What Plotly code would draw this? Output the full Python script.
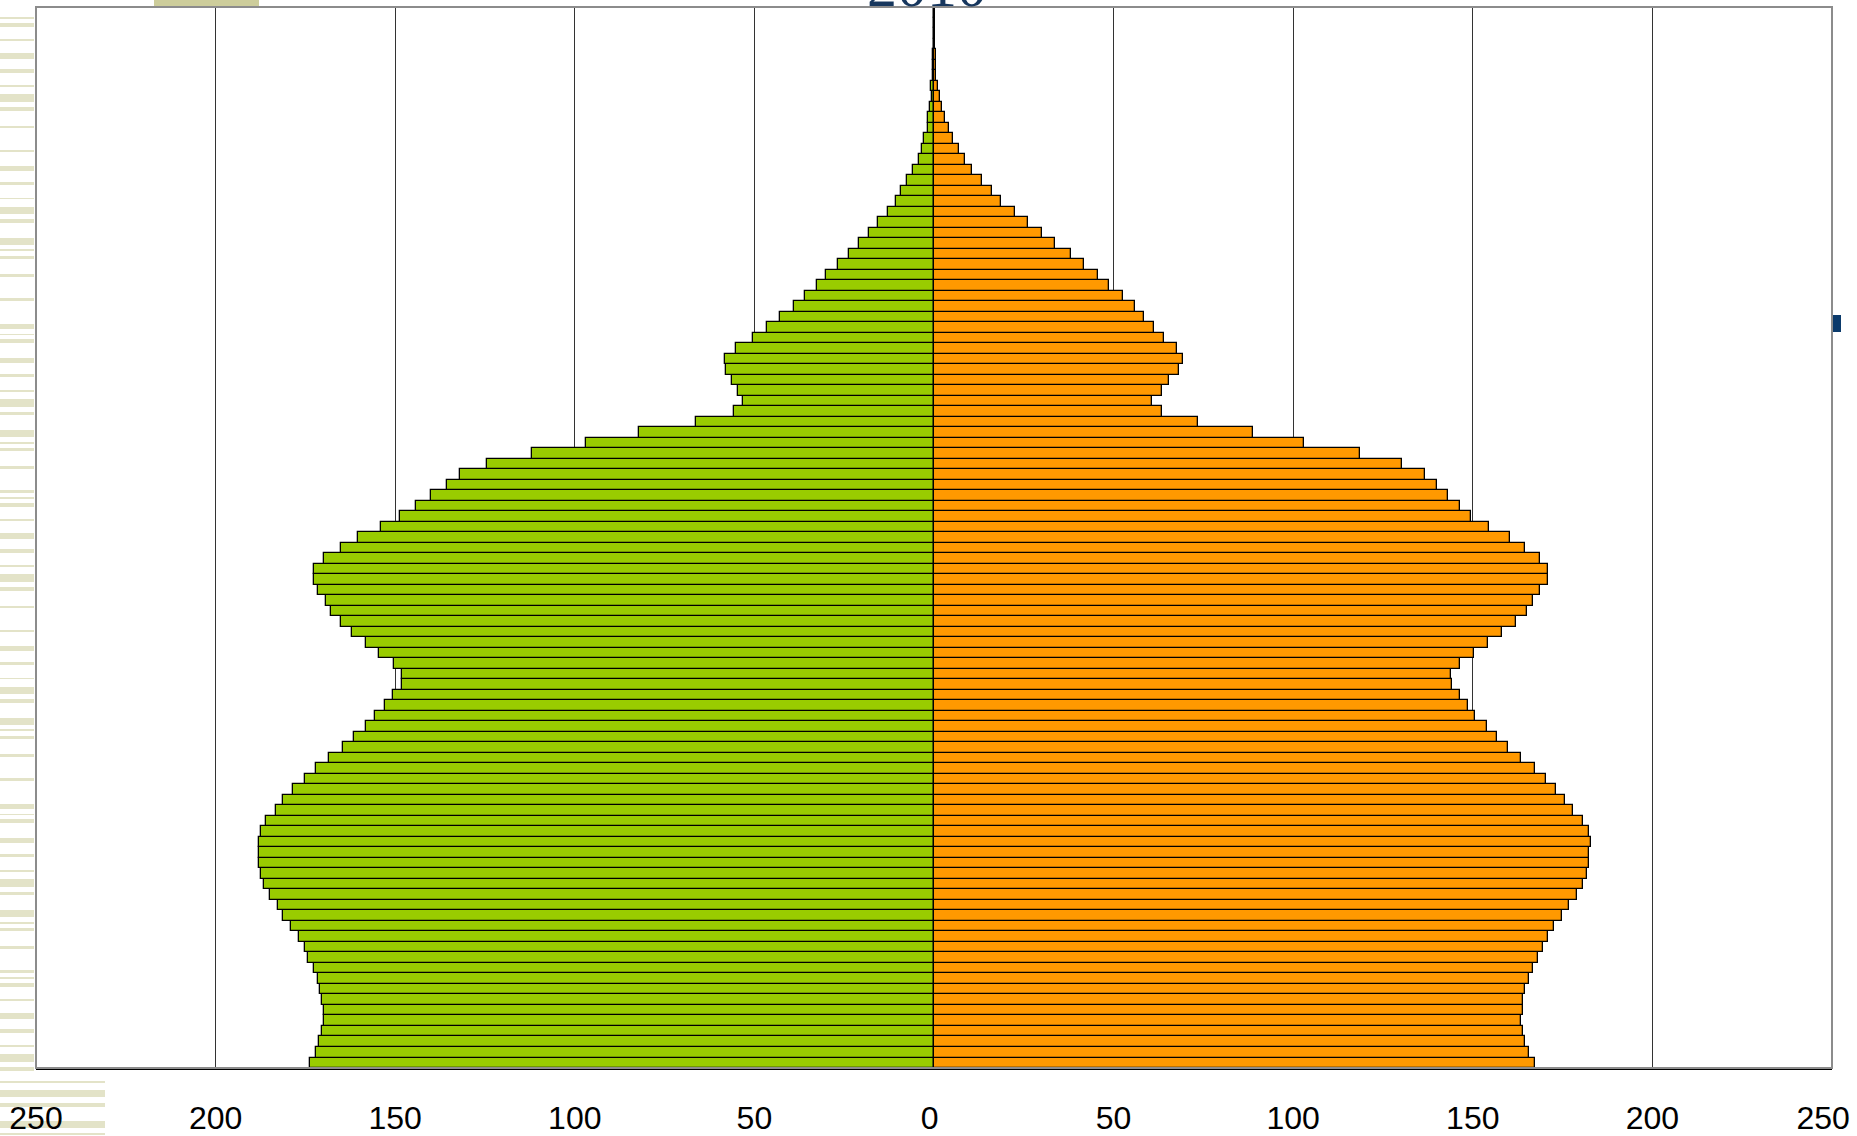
import plotly.graph_objects as go

# ---------------- data ----------------
ages = list(range(0, 101))

# left side (green) values, age 0 .. 100
left_values = [
    173.6, 172.0, 171.2, 170.4, 169.9, 169.9, 170.4, 171.0, 171.5, 172.6,
    174.2, 175.2, 176.8, 179.0, 181.1, 182.7, 184.8, 186.4, 187.5, 188.0,
    188.0, 188.0, 187.5, 185.9, 183.2, 181.1, 178.4, 175.2, 172.0, 168.3,
    164.6, 161.4, 158.2, 155.5, 152.9, 150.7, 148.1, 148.1, 150.2, 154.5,
    158.2, 161.9, 165.1, 167.8, 169.4, 171.5, 172.6, 172.6, 169.9, 165.1,
    160.4, 154.0, 148.6, 144.3, 140.0, 135.7, 132.0, 124.4, 112.0, 97.0,
    82.0, 66.3, 55.6, 53.1, 54.5, 56.2, 57.8, 58.3, 55.1, 50.3,
    46.5, 42.8, 39.0, 35.8, 32.6, 30.0, 26.8, 23.6, 20.9, 18.2,
    15.5, 12.8, 10.7, 9.1, 7.5, 5.9, 4.3, 3.3, 2.7, 1.7,
    1.7, 1.2, 0.6, 0.7, 0.3, 0.3, 0.3, 0.1, 0.1, 0.1,
    0.1,
]

# right side (orange) values, age 0 .. 100
right_values = [
    167.3, 165.7, 164.6, 164.1, 163.5, 164.1, 164.1, 164.6, 165.7, 166.7,
    168.1, 169.6, 171.0, 172.6, 174.7, 176.8, 179.0, 180.8, 181.9, 182.4,
    182.4, 183.0, 182.3, 180.7, 177.9, 175.8, 173.1, 170.4, 167.3, 163.5,
    159.8, 156.6, 153.9, 150.7, 148.6, 146.5, 144.3, 143.8, 146.5, 150.2,
    154.2, 158.2, 161.9, 165.1, 166.7, 168.8, 171.0, 171.0, 168.8, 164.6,
    160.4, 154.4, 149.6, 146.4, 143.2, 139.9, 136.7, 130.2, 118.6, 103.1,
    88.7, 73.5, 63.4, 60.7, 63.4, 65.5, 68.2, 69.2, 67.6, 63.9,
    61.2, 58.6, 55.9, 52.6, 48.8, 45.6, 41.8, 38.0, 33.8, 30.0,
    26.3, 22.5, 18.7, 16.1, 13.5, 10.7, 8.5, 6.9, 5.4, 4.2,
    3.2, 2.1, 1.6, 1.2, 0.6, 0.6, 0.6, 0.15, 0.15, 0.15,
    0.15,
]

tick_values = [-250, -200, -150, -100, -50, 0, 50, 100, 150, 200, 250]
tick_labels = ["250", "200", "150", "100", "50", "0", "50", "100", "150", "200", "250"]
title_text = "2010"

# ---------------- layout constants (pixels) ----------------
W, H = 1857, 1136
PL, PR, PT, PB = 36, 1832, 7, 1068  # plot area edges
NBSP = "\u00a0"


def px_x(p):
    return (p - PL) / (PR - PL)


def px_y(p):
    return (PB - p) / (PB - PT)


# small left nudges of some labels (as in the original rendering)
label_pad = {0: 1, 250: 2}
tick_text_shown = [
    lab + NBSP * label_pad.get(v, 0) for v, lab in zip(tick_values, tick_labels)
]

fig = go.Figure()
fig.add_trace(go.Bar(
    y=ages, x=[-v for v in left_values], orientation="h", name="left",
    marker=dict(color="#99CC00", line=dict(color="#000000", width=1.3)),
    customdata=left_values, hovertemplate="%{y}: %{customdata}<extra></extra>",
))
fig.add_trace(go.Bar(
    y=ages, x=right_values, orientation="h", name="right",
    marker=dict(color="#FF9900", line=dict(color="#000000", width=1.3)),
    hovertemplate="%{y}: %{x}<extra></extra>",
))

shapes = []
BEIGE = "#E3E3C8"
# decorative stripes on the left margin (slide background)
left_stripes = [
    (17, 19), (23, 27), (39, 41), (53, 59), (69, 73), (85, 87), (94, 102), (107, 111),
    (126, 128), (150, 152), (166, 171), (182, 185), (198, 199), (207, 214), (219, 223),
    (238, 245), (249, 251), (256, 259), (274, 277), (298, 301), (324, 329), (334, 335),
    (339, 343), (358, 363), (374, 377), (390, 392), (399, 407), (412, 415), (430, 437),
    (442, 444), (448, 451), (466, 469), (490, 493),
]
pattern = list(left_stripes)
for off in (480, 960):
    for a, b in left_stripes:
        if a + off < 1075:
            pattern.append((a + off, min(b + off, 1075)))
for a, b in pattern:
    shapes.append(dict(type="rect", xref="paper", yref="paper", layer="below",
                       x0=px_x(0), x1=px_x(34), y0=px_y(b), y1=px_y(a),
                       fillcolor=BEIGE, line=dict(width=0)))
for a, b in [(1081, 1083), (1090, 1097), (1103, 1107), (1121, 1128), (1133, 1135)]:
    shapes.append(dict(type="rect", xref="paper", yref="paper", layer="below",
                       x0=px_x(0), x1=px_x(105), y0=px_y(b), y1=px_y(a),
                       fillcolor=BEIGE, line=dict(width=0)))
# khaki block at top
shapes.append(dict(type="rect", xref="paper", yref="paper", layer="below",
                   x0=px_x(154), x1=px_x(259), y0=px_y(6), y1=px_y(-5),
                   fillcolor="#CDCD9B", line=dict(width=0)))
# small navy marker on the right
shapes.append(dict(type="rect", xref="paper", yref="paper",
                   x0=px_x(1833), x1=px_x(1841), y0=px_y(332), y1=px_y(315),
                   fillcolor="#0B3A6B", line=dict(width=0)))
# plot-area frame
shapes.append(dict(type="rect", xref="paper", yref="paper", layer="above",
                   x0=0, x1=1, y0=0, y1=1, line=dict(color="#8C8C8C", width=2)))

fig.update_layout(
    width=W, height=H,
    margin=dict(l=PL, r=W - PR, t=PT, b=H - PB, pad=0, autoexpand=False),
    paper_bgcolor="rgba(0,0,0,0)",
    plot_bgcolor="#FFFFFF",
    barmode="relative",
    bargap=0,
    showlegend=False,
    shapes=shapes,
    font=dict(family="Liberation Sans, Arial, sans-serif", color="#000000"),
    xaxis=dict(
        range=[-250, 250],
        tickmode="array", tickvals=tick_values, ticktext=tick_text_shown,
        tickfont=dict(size=32, family="Liberation Sans, Arial, sans-serif"),
        ticks="", ticklabelstandoff=21, ticklabeloverflow="allow",
        automargin=False,
        showgrid=True, gridcolor="#333333", gridwidth=1,
        zeroline=False,
        showline=True, linecolor="#000000", linewidth=1.5,
        fixedrange=True,
    ),
    yaxis=dict(
        range=[-0.5, 100.5], automargin=False,
        showticklabels=False, ticks="", showgrid=False, zeroline=False,
        showline=False, fixedrange=True,
    ),
    annotations=[dict(
        text=title_text, xref="paper", yref="paper", x=px_x(927), y=1,
        xanchor="center", yanchor="bottom", yshift=-14, showarrow=False,
        font=dict(family="Liberation Serif, Times New Roman, serif", size=60, color="#17375E"),
    )],
)

fig.write_html(
    "out.html",
    config={"displayModeBar": False},
    post_script="document.body.style.margin='0';document.body.style.overflow='hidden';",
)
